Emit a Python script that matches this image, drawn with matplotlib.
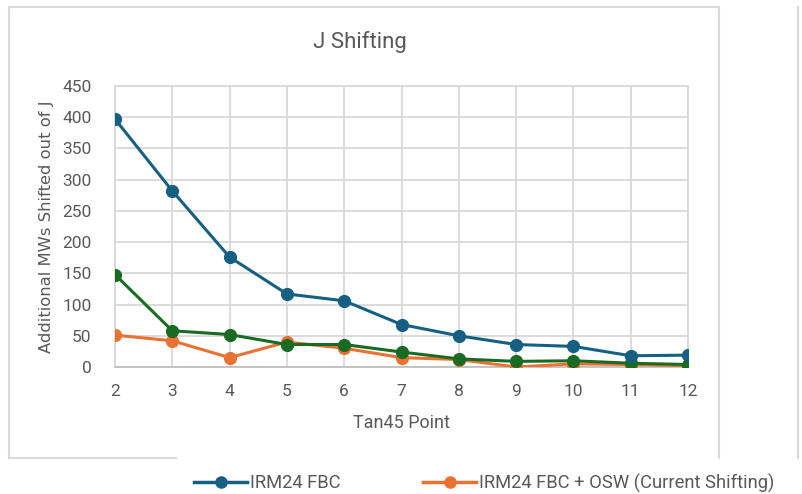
import matplotlib.pyplot as plt
from matplotlib.lines import Line2D
from matplotlib import font_manager

# данные
tan45_points = [2, 3, 4, 5, 6, 7, 8, 9, 10, 11, 12]
irm24_fbc = [397, 282, 176, 117, 106, 68, 50, 36, 33, 18, 19]
irm24_fbc_osw = [51, 42, 15, 40, 30, 15, 12, 0, 5, 4, 2]
third_series = [148, 58, 52, 36, 36, 24, 13, 9, 10, 6, 4]

y_ticks = list(range(0, 451, 50))

blue = "#156082"
orange = "#E97132"
green = "#196B24"
grid_c = "#D9D9D9"
text_c = "#595959"

names = {f.name for f in font_manager.fontManager.ttflist}
narrow = "Liberation Sans Narrow" if "Liberation Sans Narrow" in names else "Roboto"

fig = plt.figure(figsize=(8.02, 4.94), dpi=100)
W, H = 802, 494
ax = fig.add_axes([115 / W, 1 - 367 / H, (688 - 115) / W, (367 - 86) / H])

ax.plot(tan45_points, irm24_fbc_osw, "-o", color=orange, lw=2.2, ms=8.5, zorder=3)
ax.plot(tan45_points, third_series, "-o", color=green, lw=2.2, ms=8.5, zorder=4)
ax.plot(tan45_points, irm24_fbc, "-o", color=blue, lw=2.2, ms=8.5, zorder=5)

ax.set_xlim(2, 12)
ax.set_ylim(0, 450)
ax.set_xticks(tan45_points)
ax.set_yticks(y_ticks)
ax.grid(True, color=grid_c, lw=1.3)
for s in ax.spines.values():
    s.set_color(grid_c)
    s.set_linewidth(1.3)
ax.spines["bottom"].set_color("#BFBFBF")
ax.tick_params(length=0, labelcolor=text_c, labelsize=12.5, pad=12)
for lab in ax.get_xticklabels() + ax.get_yticklabels():
    lab.set_fontfamily(narrow)
ax.tick_params(axis="y", pad=17)

ax.set_xlabel("Tan45 Point", fontsize=13, color=text_c, family=narrow, labelpad=11)
ax.set_ylabel("Additional MWs Shifted out of J", fontsize=11.8, color=text_c,
              family="DejaVu Sans", labelpad=6)
fig.text(360 / W, 1 - 42 / H, "J Shifting", fontsize=16, color=text_c,
         family=narrow, ha="center", va="center")

# рамка области диаграммы
def fline(xs, ys):
    fig.add_artist(Line2D([x / W for x in xs], [1 - y / H for y in ys],
                          color=grid_c, lw=1.5))

fline([9, 719], [7, 7])
fline([9, 9], [7, 458])
fline([719, 719], [7, 458])
fline([9, 176], [458, 458])
fline([798, 798], [7, 458])

handles = [Line2D([], [], color=blue, lw=2.5, marker="o", ms=8),
           Line2D([], [], color=orange, lw=2.5, marker="o", ms=8)]
fig.legend(handles, ["IRM24 FBC", "IRM24 FBC + OSW (Current Shifting)"],
           loc="center left", bbox_to_anchor=(194 / W, 1 - 483 / H), ncol=2,
           frameon=False, prop={"family": narrow, "size": 13.2},
           labelcolor=text_c, handlelength=2.9, handletextpad=0.15,
           columnspacing=4.5, borderpad=0, borderaxespad=0)

fig.savefig("out.png", dpi=100)
